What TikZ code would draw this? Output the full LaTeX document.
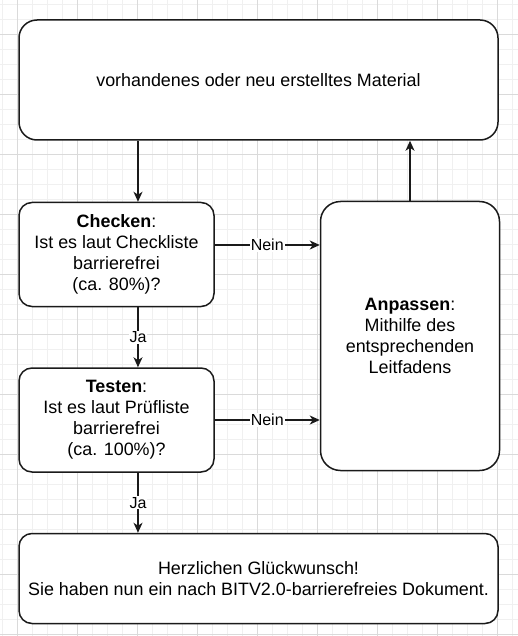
\documentclass[tikz,border=0pt]{standalone}
\usepackage{fontspec}
\setmainfont{Liberation Sans}
\usepackage{xcolor}
\definecolor{cLine}{HTML}{1A1A1A}
\definecolor{cGridMinor}{HTML}{F0F0F0}
\definecolor{cGridMajor}{HTML}{DADADA}
\usepackage{tikz}
\usetikzlibrary{positioning,arrows.meta}
\tikzset{
  node-box/.style={draw=cLine,line width=1.5pt,fill=white,align=center,
    inner sep=0pt,font=\fontsize{17.9}{21}\selectfont},
  node-wide/.style={node-box,minimum width=479pt},
  node-step/.style={node-box,minimum width=195pt,minimum height=104pt,
    rounded corners=13pt},
  edge-label/.style={fill=white,inner sep=1pt,font=\fontsize{16}{19}\selectfont},
  arrow/.style={-{Stealth[length=10pt,width=9pt,inset=3pt]},line width=1.5pt,
    draw=cLine},
  grid-minor/.style={draw=cGridMinor,line width=0.8pt},
  grid-major/.style={draw=cGridMajor,line width=0.8pt},
}

\begin{document}
\begin{tikzpicture}[x=1pt,y=-1pt]
  \useasboundingbox (0,0) rectangle (518,636);
  % Raster wie im Editor
  \foreach \gx in {2,17,...,517} \draw[grid-minor] (\gx,0) -- (\gx,636);
  \foreach \gy in {4,19,...,634} \draw[grid-minor] (0,\gy) -- (518,\gy);
  \foreach \gx in {17,77,...,497} \draw[grid-major] (\gx,0) -- (\gx,636);
  \foreach \gy in {34,94,...,634} \draw[grid-major] (0,\gy) -- (518,\gy);

  \node[node-wide,minimum height=120pt,rounded corners=18pt] (src) at (258.5,80)
    {vorhandenes oder neu erstelltes Material};
  \node[node-step,below=61pt of src.south west,anchor=north west] (chk)
    {\textbf{Checken}:\\Ist es laut Checkliste\\barrierefrei\\(ca. 80\%)?};
  \node[node-step,below=60pt of chk] (tst)
    {\textbf{Testen}:\\Ist es laut Prüfliste\\barrierefrei\\(ca. 100\%)?};
  \node[node-box,minimum width=179pt,minimum height=269pt,rounded corners=20pt,
    right=105pt of chk.north east,anchor=north west,yshift=1pt] (anp)
    {\textbf{Anpassen}:\\Mithilfe des\\entsprechenden\\Leitfadens};
  \node[node-wide,minimum height=90pt,rounded corners=13pt,
    below=60pt of tst.south west,anchor=north west] (fin)
    {Herzlichen Glückwunsch!\\Sie haben nun ein nach BITV2.0-barrierefreies Dokument.};

  \coordinate (col) at (138,0);
  \coordinate (nein) at (0,245);
  \draw[arrow] (src.south -| col) -- (chk.north -| col);
  \draw[arrow] (chk.south -| col) -- node[edge-label] {Ja} (tst.north -| col);
  \draw[arrow] (tst.south -| col) -- node[edge-label] {Ja} (fin.north -| col);
  \draw[arrow] (chk.east |- nein) -- node[edge-label] {Nein} (anp.west |- nein);
  \draw[arrow] (tst.east) -- node[edge-label] {Nein} (tst.east -| anp.west);
  \draw[arrow] (anp.north) -- (anp.north |- src.south);
\end{tikzpicture}
\end{document}
